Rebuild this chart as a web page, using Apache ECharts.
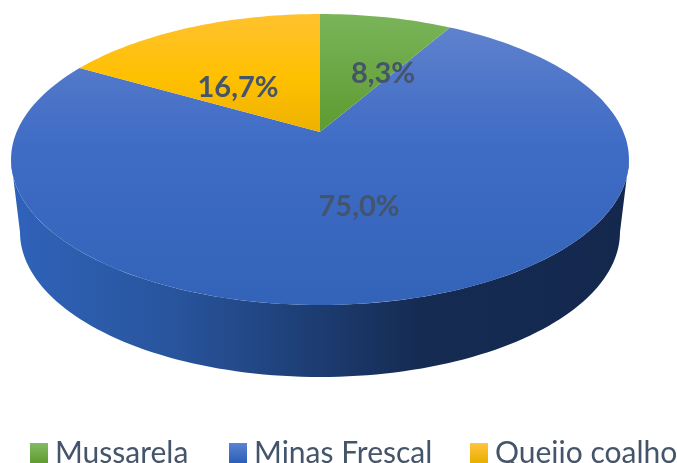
<!DOCTYPE html>
<html><head><meta charset="utf-8">
<style>html,body{margin:0;padding:0;background:#fff}#c{width:677px;height:463px}</style>
<script src="https://cdn.jsdelivr.net/npm/echarts@6/dist/echarts.min.js"></script>
</head><body><div id="c"></div>
<script>
const categories = ['Mussarela', 'Minas Frescal', 'Queijo coalho'];
const values = [8.3, 75.0, 16.7];
const labelText = ['8,3%', '75,0%', '16,7%'];

const gradients = [
  [[0, '#7ab45a'], [1, '#5e9b30']],
  [[0, '#5f82cd'], [0.18, '#5077c9'], [0.42, '#3f6cc5'], [1, '#3363b9']],
  [[0, '#ffc22e'], [0.55, '#ffc000'], [1, '#edb200']]
];
const legendGradients = [
  [[0, '#84bb63'], [1, '#5f9c30']],
  [[0, '#5a83d2'], [1, '#2c5eb6']],
  [[0, '#ffc53d'], [1, '#e8ae00']]
];
const labelSpot = [[383, 74], [359, 207], [238, 88]];
const legendLeft = [25, 224, 465];

const apex = { x: 320, y: 132 }, base = { x: 320, y: 204.6 };
const tilt = 0.189, topW = 303.4, topH = 140.3, botW = 294.6, botH = 139.8;
const rim = (c, w, h, deg) => {
  const t = deg * Math.PI / 180, u = Math.sin(t), v = -Math.cos(t), d = 1 - tilt * v;
  return [c.x + w * u / d, c.y + h * v / d];
};
const arc = (c, w, h, a, b) => {
  const pts = [], n = Math.max(2, Math.ceil((b - a) / 1.5));
  for (let i = 0; i <= n; i++) pts.push(rim(c, w, h, a + (b - a) * i / n));
  return pts;
};
const grad = (stops, horizontal) => ({
  type: 'linear', x: 0, y: 0, x2: horizontal ? 1 : 0, y2: horizontal ? 0 : 1,
  colorStops: stops.map(s => ({ offset: s[0], color: s[1] }))
});
const wallStops = [[0, '#2f63ba'], [0.27, '#28549c'], [0.47, '#1e3f76'], [0.66, '#152b52'], [1, '#14284e']];
const visFrom = 100.9, visTo = 259.1;
const total = values.reduce((a, b) => a + b, 0);

const starts = [];
values.reduce((acc, v, i) => { starts[i] = acc; return acc + v; }, 0);

const series = categories.map((name, i) => ({
  type: 'custom', name, coordinateSystem: 'none', z: i === 1 ? 1 : 2, clip: false, silent: true,
  data: [values[i]],
  renderItem: (params, api) => {
    const a = starts[i] / total * 360, b = (starts[i] + api.value(0)) / total * 360;
    const kids = [];
    const wa = Math.max(a, visFrom), wb = Math.min(b, visTo);
    if (wb > wa) {
      const top = arc(apex, topW, topH, wa, wb), bot = arc(base, botW, botH, wa, wb).reverse();
      kids.push({ type: 'polygon', shape: { points: top.concat(bot) }, style: { fill: grad(wallStops, true) } });
    }
    kids.push({ type: 'polygon', shape: { points: [[apex.x, apex.y]].concat(arc(apex, topW, topH, a, b)) },
      style: { fill: grad(gradients[i], false) } });
    kids.push({ type: 'text', z2: 10, style: { text: labelText[i], x: labelSpot[i][0], y: labelSpot[i][1],
      align: 'center', verticalAlign: 'middle', fill: '#44546a', font: 'bold 29px Lato' } });
    return { type: 'group', children: kids };
  }
}));

const chart = echarts.init(document.getElementById('c'), null, { renderer: 'canvas' });
chart.setOption({
  animation: false,
  legend: categories.map((name, i) => ({
    left: legendLeft[i], top: 433, width: 300, icon: 'rect', itemWidth: 18, itemHeight: 20, selectedMode: false,
    textStyle: { color: '#44546a', fontFamily: 'Lato', fontSize: 30, padding: [0, 0, 2, 2] },
    data: [{ name, itemStyle: { color: grad(legendGradients[i], false) } }]
  })),
  series
});
</script></body></html>
